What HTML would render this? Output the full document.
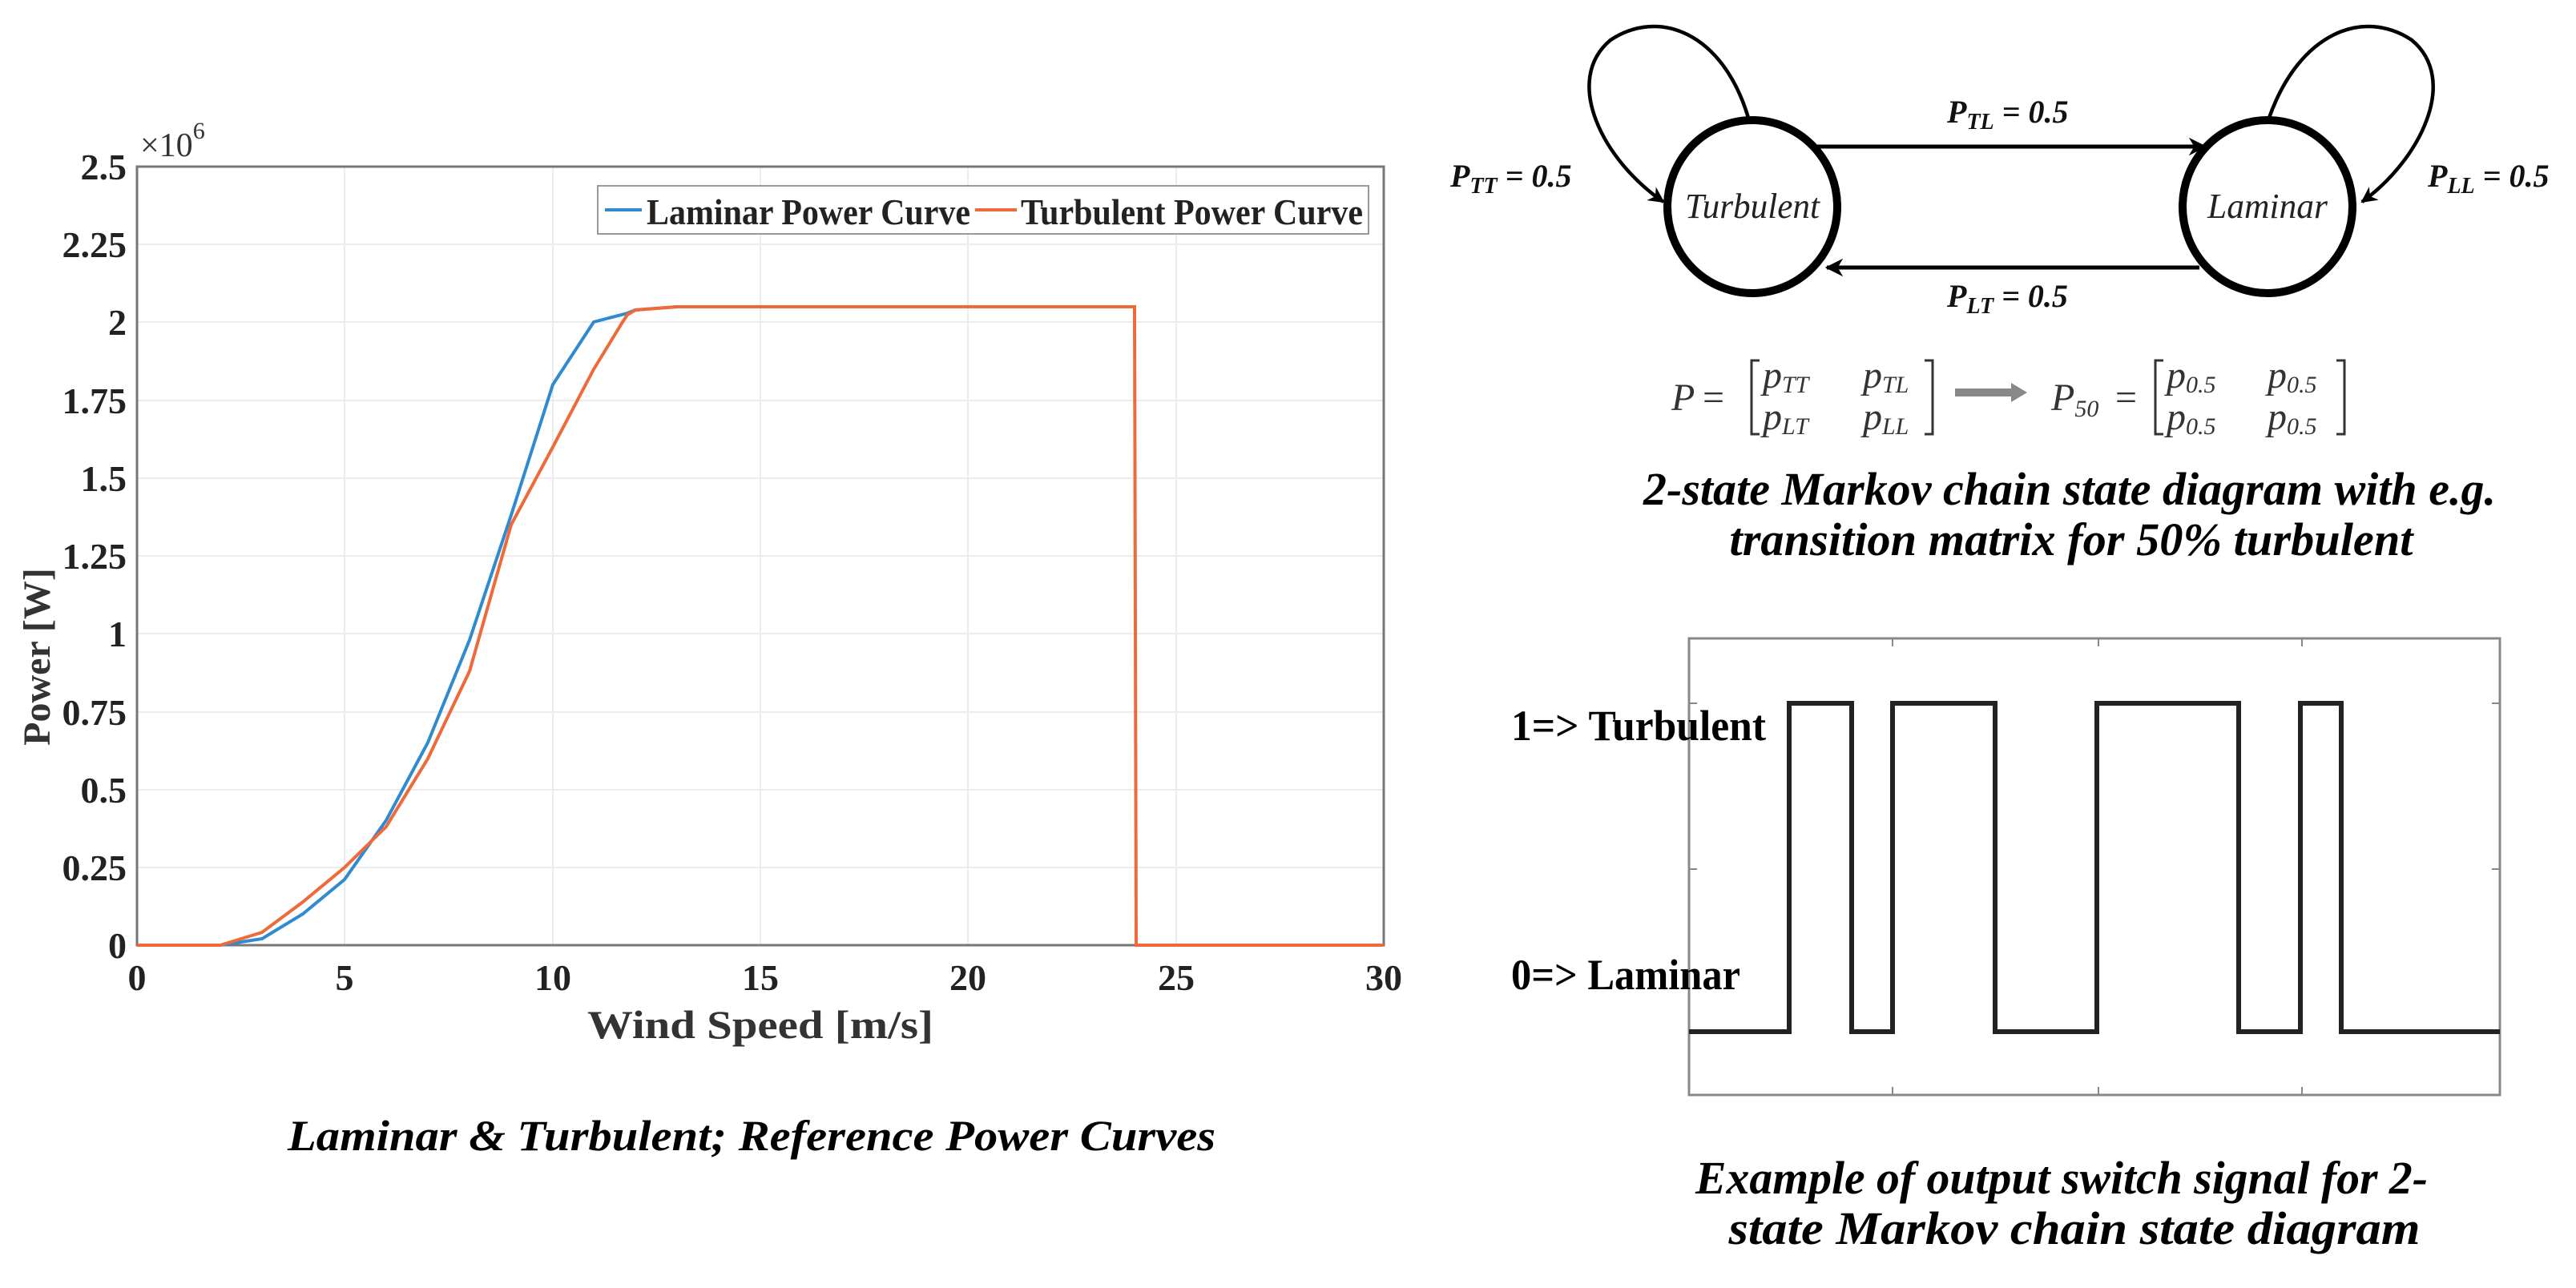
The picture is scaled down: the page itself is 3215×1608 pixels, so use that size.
<!DOCTYPE html>
<html><head><meta charset="utf-8"><style>
html,body{margin:0;padding:0;background:#fff;}
svg{display:block;}
text{font-family:"Liberation Serif",serif;}
</style></head><body>
<svg width="3215" height="1608" viewBox="0 0 3215 1608" xmlns="http://www.w3.org/2000/svg">
<defs>
<marker id="ah" viewBox="0 0 10 10" refX="9" refY="5" markerWidth="4.5" markerHeight="4.5" orient="auto-start-reverse">
<path d="M0,0 L10,5 L0,10 L3,5 z" fill="#000"/></marker>
</defs>
<rect width="3215" height="1608" fill="#fff"/>
<!-- LEFT PLOT -->
<g stroke="#ececec" stroke-width="2">
<line x1="430" y1="208" x2="430" y2="1180"/><line x1="690" y1="208" x2="690" y2="1180"/>
<line x1="949" y1="208" x2="949" y2="1180"/><line x1="1208" y1="208" x2="1208" y2="1180"/>
<line x1="1468" y1="208" x2="1468" y2="1180"/>
<line x1="171" y1="305" x2="1727" y2="305"/><line x1="171" y1="402" x2="1727" y2="402"/>
<line x1="171" y1="500" x2="1727" y2="500"/><line x1="171" y1="597" x2="1727" y2="597"/>
<line x1="171" y1="694" x2="1727" y2="694"/><line x1="171" y1="791" x2="1727" y2="791"/>
<line x1="171" y1="889" x2="1727" y2="889"/><line x1="171" y1="986" x2="1727" y2="986"/>
<line x1="171" y1="1083" x2="1727" y2="1083"/>
</g>
<rect x="171" y="208" width="1556" height="972" fill="none" stroke="#777" stroke-width="3"/>
<g font-weight="bold" font-size="46" fill="#222" text-anchor="end">
<text x="158" y="224">2.5</text><text x="158" y="321">2.25</text><text x="158" y="418">2</text>
<text x="158" y="516">1.75</text><text x="158" y="613">1.5</text><text x="158" y="710">1.25</text>
<text x="158" y="807">1</text><text x="158" y="905">0.75</text><text x="158" y="1002">0.5</text>
<text x="158" y="1099">0.25</text><text x="158" y="1196">0</text>
</g>
<g font-weight="bold" font-size="46" fill="#222" text-anchor="middle">
<text x="171" y="1236">0</text><text x="430" y="1236">5</text><text x="690" y="1236">10</text>
<text x="949" y="1236">15</text><text x="1208" y="1236">20</text><text x="1468" y="1236">25</text>
<text x="1727" y="1236">30</text>
</g>
<text x="175" y="195" font-size="42" fill="#333">×10<tspan font-size="30" dy="-22">6</tspan></text>
<text x="949" y="1296" font-weight="bold" font-size="50" fill="#333" text-anchor="middle" textLength="432" lengthAdjust="spacingAndGlyphs">Wind Speed [m/s]</text>
<text transform="translate(62,820) rotate(-90)" font-weight="bold" font-size="48" fill="#333" text-anchor="middle">Power [W]</text>
<polyline fill="none" stroke="#2f8ad0" stroke-width="4" points="171,1180 275,1180 327,1172 378,1141 430,1098 482,1024 534,927 586,799 638,643 690,480 741,402 783,391 793,387 845,383 1416,383"/>
<polyline fill="none" stroke="#ee6a3a" stroke-width="4" points="171,1180 275,1180 327,1164 378,1126 430,1083 482,1032 534,947 586,838 638,655 690,558 741,461 777,402 783,393 793,387 845,383 1416,383 1418,1180 1727,1180"/>
<rect x="746" y="232" width="962" height="60" fill="#fff" stroke="#999" stroke-width="2"/>
<line x1="755" y1="262" x2="801" y2="262" stroke="#2f8ad0" stroke-width="4"/>
<line x1="1217" y1="262" x2="1269" y2="262" stroke="#ee6a3a" stroke-width="4"/>
<text x="807" y="280" font-weight="bold" font-size="46" fill="#222" textLength="404" lengthAdjust="spacingAndGlyphs">Laminar Power Curve</text>
<text x="1274" y="280" font-weight="bold" font-size="46" fill="#222" textLength="427" lengthAdjust="spacingAndGlyphs">Turbulent Power Curve</text>
<text x="938" y="1436" font-weight="bold" font-style="italic" font-size="54" fill="#000" text-anchor="middle" textLength="1158" lengthAdjust="spacingAndGlyphs">Laminar &amp; Turbulent; Reference Power Curves</text>

<!-- MARKOV DIAGRAM -->
<ellipse cx="2187" cy="258" rx="106" ry="108" fill="none" stroke="#000" stroke-width="10"/>
<ellipse cx="2830" cy="258" rx="106" ry="108" fill="none" stroke="#000" stroke-width="10"/>
<text x="2187" y="272" font-style="italic" font-size="44" text-anchor="middle" fill="#222" textLength="168" lengthAdjust="spacingAndGlyphs">Turbulent</text>
<text x="2830" y="272" font-style="italic" font-size="44" text-anchor="middle" fill="#222" textLength="150" lengthAdjust="spacingAndGlyphs">Laminar</text>
<line x1="2268" y1="183" x2="2752" y2="183" stroke="#000" stroke-width="5" marker-end="url(#ah)"/>
<line x1="2745" y1="334" x2="2280" y2="334" stroke="#000" stroke-width="5" marker-end="url(#ah)"/>
<path d="M2182,147 C2150,40 2070,10 2010,50 C1950,100 2000,200 2076,252" fill="none" stroke="#000" stroke-width="4.5" marker-end="url(#ah)"/>
<path d="M2832,147 C2870,40 2950,10 3010,50 C3070,100 3020,200 2948,252" fill="none" stroke="#000" stroke-width="4.5" marker-end="url(#ah)"/>
<g font-weight="bold" font-style="italic" font-size="40" fill="#111">
<text x="2430" y="153">P<tspan font-size="28" dy="8">TL</tspan><tspan dy="-8"> = 0.5</tspan></text>
<text x="2430" y="383">P<tspan font-size="28" dy="8">LT</tspan><tspan dy="-8"> = 0.5</tspan></text>
<text x="1810" y="233">P<tspan font-size="28" dy="8">TT</tspan><tspan dy="-8"> = 0.5</tspan></text>
<text x="3030" y="233">P<tspan font-size="28" dy="8">LL</tspan><tspan dy="-8"> = 0.5</tspan></text>
</g>
<g font-size="48" fill="#333">
<text x="2086" y="512" font-style="italic">P</text>
<text x="2125" y="512">=</text>
<path d="M2196,450 h-10 v92 h10 M2402,450 h10 v92 h-10" fill="none" stroke="#333" stroke-width="3"/>
<text x="2200" y="484" font-style="italic">p<tspan font-size="30" dy="6">TT</tspan></text>
<text x="2325" y="484" font-style="italic">p<tspan font-size="30" dy="6">TL</tspan></text>
<text x="2200" y="536" font-style="italic">p<tspan font-size="30" dy="6">LT</tspan></text>
<text x="2325" y="536" font-style="italic">p<tspan font-size="30" dy="6">LL</tspan></text>
<path d="M2440,485 h70 v-7 l20,12 l-20,12 v-7 h-70 z" fill="#888"/>
<text x="2560" y="512" font-style="italic">P<tspan font-size="30" dy="8">50</tspan></text>
<text x="2640" y="512">=</text>
<path d="M2700,450 h-10 v92 h10 M2916,450 h10 v92 h-10" fill="none" stroke="#333" stroke-width="3"/>
<text x="2704" y="484" font-style="italic">p<tspan font-size="30" dy="6">0.5</tspan></text>
<text x="2830" y="484" font-style="italic">p<tspan font-size="30" dy="6">0.5</tspan></text>
<text x="2704" y="536" font-style="italic">p<tspan font-size="30" dy="6">0.5</tspan></text>
<text x="2830" y="536" font-style="italic">p<tspan font-size="30" dy="6">0.5</tspan></text>
</g>
<g font-weight="bold" font-style="italic" font-size="58" fill="#000" text-anchor="middle">
<text x="2583" y="630" textLength="1064" lengthAdjust="spacingAndGlyphs">2-state Markov chain state diagram with e.g.</text>
<text x="2585" y="693" textLength="853" lengthAdjust="spacingAndGlyphs">transition matrix for 50% turbulent</text>
</g>

<!-- SWITCH SIGNAL -->
<rect x="2108" y="797" width="1012" height="570" fill="none" stroke="#888" stroke-width="3"/>
<g stroke="#888" stroke-width="2">
<line x1="2362" y1="797" x2="2362" y2="807"/><line x1="2619" y1="797" x2="2619" y2="807"/><line x1="2873" y1="797" x2="2873" y2="807"/>
<line x1="2362" y1="1367" x2="2362" y2="1357"/><line x1="2619" y1="1367" x2="2619" y2="1357"/><line x1="2873" y1="1367" x2="2873" y2="1357"/>
<line x1="2108" y1="878" x2="2118" y2="878"/><line x1="2108" y1="1085" x2="2118" y2="1085"/>
<line x1="3120" y1="878" x2="3110" y2="878"/><line x1="3120" y1="1085" x2="3110" y2="1085"/>
</g>
<polyline fill="none" stroke="#222" stroke-width="6" points="2108,1288 2233,1288 2233,878 2311,878 2311,1288 2362,1288 2362,878 2490,878 2490,1288 2617,1288 2617,878 2794,878 2794,1288 2871,1288 2871,878 2922,878 2922,1288 3120,1288"/>
<g font-weight="bold" font-size="54" fill="#000">
<text x="1886" y="924" textLength="318" lengthAdjust="spacingAndGlyphs">1=&gt; Turbulent</text>
<text x="1886" y="1235" textLength="286" lengthAdjust="spacingAndGlyphs">0=&gt; Laminar</text>
</g>
<g font-weight="bold" font-style="italic" font-size="58" fill="#000" text-anchor="middle">
<text x="2573" y="1490" textLength="914" lengthAdjust="spacingAndGlyphs">Example of  output switch signal for 2-</text>
<text x="2589" y="1553" textLength="863" lengthAdjust="spacingAndGlyphs">state Markov chain state diagram</text>
</g>
</svg>
</body></html>
